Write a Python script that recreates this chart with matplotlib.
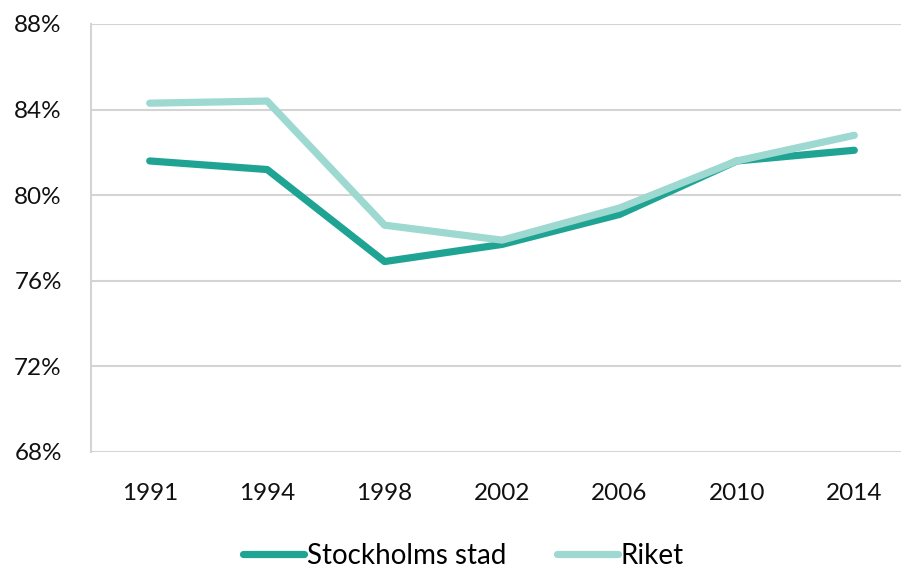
import matplotlib
matplotlib.use("Agg")
import matplotlib.pyplot as plt

years = ["1991", "1994", "1998", "2002", "2006", "2010", "2014"]
stockholm = [81.6, 81.2, 76.9, 77.7, 79.1, 81.6, 82.1]
riket = [84.3, 84.4, 78.6, 77.9, 79.4, 81.6, 82.8]
y_ticks = [68, 72, 76, 80, 84, 88]

plt.rcParams["font.family"] = ["Lato", "DejaVu Sans"]

fig = plt.figure(figsize=(9.01, 5.72), dpi=100)
# axes extend slightly beyond the right edge of the canvas
left, right = 91 / 901, 913 / 901
bottom, top = 1 - 452 / 572, 1 - 24 / 572
ax = fig.add_axes([left, bottom, right - left, top - bottom])

x = list(range(len(years)))
ax.plot(x, stockholm, color="#1fa494", lw=5.2, solid_capstyle="round",
        solid_joinstyle="round", label="Stockholms stad", zorder=3)
ax.plot(x, riket, color="#9dd8d1", lw=5.2, solid_capstyle="round",
        solid_joinstyle="round", label="Riket", zorder=4)

ax.set_xlim(-0.5, len(years) - 0.5)
ax.set_ylim(68, 88)
ax.set_yticks(y_ticks)
ax.set_yticklabels([f"{v}%" for v in y_ticks])
ax.set_xticks(x)
ax.set_xticklabels(years)
ax.tick_params(axis="both", length=0, labelsize=17.5, colors="#111111")
ax.tick_params(axis="y", pad=21)
ax.tick_params(axis="x", pad=22)

ax.grid(axis="y", color="#d4d4d4", lw=1.5, zorder=0)
for s in ["top", "right", "bottom"]:
    ax.spines[s].set_visible(False)
ax.spines["left"].set_color("#d4d4d4")
ax.spines["left"].set_linewidth(1.5)

leg = fig.legend(loc="center", bbox_to_anchor=(0.5 + 13 / 901, 1 - 556 / 572),
                 ncol=2, frameon=False, fontsize=20, handlelength=2.2,
                 handletextpad=0.1, columnspacing=1.8, borderpad=0.2)

fig.savefig("out.png", dpi=100)
